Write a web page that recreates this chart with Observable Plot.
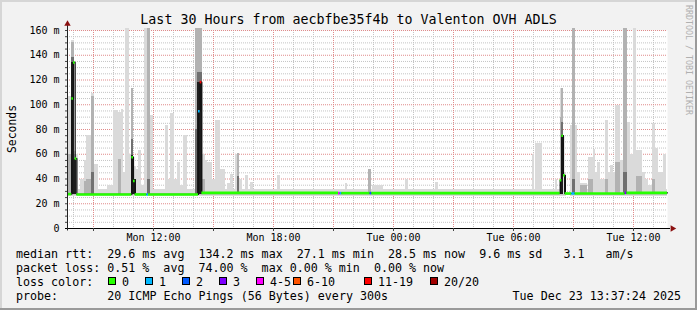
<!DOCTYPE html>
<html><head><meta charset="utf-8">
<script src="https://cdn.jsdelivr.net/npm/d3@7"></script>
<script src="https://cdn.jsdelivr.net/npm/@observablehq/plot@0.6"></script>
<style>
html,body{margin:0;padding:0;background:#f2f2f2;}
#chart{position:relative;width:697px;height:310px;background:#f2f2f2;overflow:hidden;}
#chart svg{position:absolute;left:0;top:0;}
.edge{position:absolute;}
</style></head>
<body><div id="chart"></div>
<script>
// ---------- data ----------
const title = "Last 30 Hours from aecbfbe35f4b to Valenton OVH ADLS";
const yTitle = "Seconds";
const watermark = "RRDTOOL / TOBI OETIKER";
// time in hours since Mon 22 Dec 2025 00:00
const startHour = 7.7, endHour = 37.7;
const xLabelHours = [12, 18, 24, 30, 36];
const xMajorHours = [9, 12, 15, 18, 21, 24, 27, 30, 33, 36];
const xMinorHours = [8, 10, 11, 13, 14, 16, 17, 19, 20, 22, 23, 25, 26, 28, 29, 31, 32, 34, 35, 37];
const yLabelValues = [0, 20, 40, 60, 80, 100, 120, 140, 160];
const yMajorValues = [20, 40, 60, 80, 100, 120, 140, 160];
const yMinorValues = [5, 10, 15, 25, 30, 35, 45, 50, 55, 65, 70, 75, 85, 90, 95, 105, 110, 115, 125, 130, 135, 145, 150, 155];

// median rtt (ms), step values starting at each time, with number of lost pings (of 20)
const medianHours = [7.7, 7.917, 8.0, 8.083, 8.167, 10.917, 11.0, 11.083, 11.667, 11.75, 14.25, 14.333, 14.417, 21.25, 21.333, 21.417, 22.833, 22.917, 32.333, 32.417, 32.5, 32.583, 32.917, 33.083, 35.583, 35.667];
const medianValues = [27.8, 105, 134.2, 56.5, 27.5, 57.6, 38.4, 27.5, 27.5, 27.5, 94.8, 118.3, 28.8, 28.6, 28.6, 28.6, 28.6, 28.6, 39, 75, 43, 28.3, 28.3, 28.3, 28.8, 28.8];
const medianLoss = [0, 0, 0, 0, 0, 0, 0, 0, 1, 0, 1, 14, 0, 4, 1, 0, 2, 0, 0, 0, 0, 0, 1, 0, 3, 0];

// smoke columns: [startHour, endHour, light top, mid top, dark top, core top] (ms)
const smokeFloor = 27;
const smokeColumns = [
  [7.75, 7.92, 107, 60, null, null],
  [7.92, 8.05, 152, 150, 138, 134],
  [8.05, 8.15, 62, 60, null, 56],
  [8.15, 8.25, 60, null, null, null],
  [8.35, 8.55, 40, null, null, null],
  [8.55, 8.65, 55, 38, null, null],
  [8.65, 8.9, 75, 40, null, null],
  [8.9, 9.05, 109, 107, 45, null],
  [9.05, 9.25, 52, null, null, null],
  [9.7, 10.0, 35, null, null, null],
  [10.0, 10.25, 95, null, null, null],
  [10.25, 10.4, 94, 56, null, null],
  [10.4, 10.5, 96, null, null, null],
  [10.5, 10.6, 45, null, null, null],
  [10.6, 10.8, 161.5, null, null, null],
  [10.8, 10.9, 60, null, null, null],
  [10.9, 11.0, 113, 113, 72, 59],
  [11.0, 11.135, 50, null, null, 40],
  [11.135, 11.25, 48, null, null, null],
  [11.25, 11.4, 63, null, null, null],
  [11.4, 11.55, 35, null, null, null],
  [11.55, 11.7, 161.5, null, null, null],
  [11.7, 11.85, 161.5, 161.5, 40, null],
  [11.85, 12.0, 91, null, null, null],
  [12.6, 12.75, 83, null, null, null],
  [12.75, 12.85, 40, null, null, null],
  [12.85, 13.05, 93, null, null, null],
  [13.05, 13.2, 40, null, null, null],
  [13.2, 13.35, 53, null, null, null],
  [13.35, 13.5, 35, null, null, null],
  [13.5, 13.7, 75, null, null, null],
  [14.1, 14.185, 161.5, 161.5, 80, null],
  [14.185, 14.435, 161.5, 161.5, 126, 118],
  [14.435, 14.6, 60, 40, null, null],
  [14.6, 14.7, 55, null, null, null],
  [14.7, 14.95, 53, null, null, null],
  [14.95, 15.1, 40, null, null, null],
  [15.1, 15.35, 87, null, null, null],
  [15.35, 15.6, 48, null, null, null],
  [15.7, 15.85, 36, null, null, null],
  [15.85, 16.0, 44, null, null, null],
  [16.1, 16.2, 60, null, null, null],
  [16.2, 16.3, 61, 61, 42, null],
  [16.3, 16.45, 40, null, null, null],
  [16.6, 16.75, 43, null, null, null],
  [16.85, 17.0, 37, null, null, null],
  [18.2, 18.35, 43, null, null, null],
  [21.6, 21.7, 36, null, null, null],
  [22.75, 22.9, 48, 48, null, null],
  [22.95, 23.5, 35, null, null, null],
  [24.6, 24.75, 40, null, null, null],
  [26.1, 26.25, 37, null, null, null],
  [30.95, 31.05, 60, null, null, null],
  [31.1, 31.45, 69, null, null, null],
  [32.1, 32.2, 40, null, null, null],
  [32.325, 32.4, 113, 90, null, 39],
  [32.4, 32.5, 113, 113, 86, 75],
  [32.5, 32.565, 50, null, null, null],
  [32.565, 32.65, 45, null, null, 43],
  [32.85, 32.95, 83, null, null, null],
  [32.95, 33.1, 161.5, 161.5, 40, null],
  [33.1, 33.2, 83, null, null, null],
  [33.2, 33.35, 45, null, null, null],
  [33.35, 33.7, 36, 35, null, null],
  [33.75, 34.0, 57, 40, null, null],
  [34.0, 34.1, 64, null, null, null],
  [34.1, 34.2, 45, null, null, null],
  [34.2, 34.35, 53, null, null, null],
  [34.35, 34.6, 40, null, null, null],
  [34.6, 34.75, 87, 40, null, null],
  [34.75, 34.85, 45, null, null, null],
  [34.85, 35.0, 51, null, null, null],
  [35.0, 35.1, 45, null, null, null],
  [35.1, 35.35, 99, 53, null, null],
  [35.35, 35.5, 55, null, null, null],
  [35.5, 35.7, 161.5, 161.5, 45, null],
  [35.7, 35.85, 86, null, null, null],
  [35.85, 36.0, 60, null, null, null],
  [36.0, 36.15, 161.5, null, null, null],
  [36.15, 36.45, 63, 42, null, null],
  [36.45, 36.6, 45, null, null, null],
  [36.6, 36.75, 40, null, null, null],
  [36.75, 36.95, 35, null, null, null],
  [36.95, 37.1, 85, 40, null, null],
  [37.1, 37.25, 65, null, null, null],
  [37.25, 37.5, 45, null, null, null],
  [37.5, 37.65, 60, null, null, null]
];
// thin smoke band around the baseline: [startHour, endHour, low, high]
const baselineSmoke = [[7.7, 32.65, 26, 31.5], [32.85, 37.7, 26, 31.5]];
const baselineLow = [[7.7, 37.7, 26.3, 27.3]];

const lossLabels = ["0", "1", "2", "3", "4-5", "6-10", "11-19", "20/20"];
const lossColors = ["#26ff00", "#00b8ff", "#0059ff", "#7e00ff", "#ff00ff", "#ff5500", "#ff0000", "#a10000"];

const legendRows = [
  "median rtt:  29.6 ms avg  134.2 ms max  27.1 ms min  28.5 ms now  9.6 ms sd   3.1   am/s",
  "packet loss: 0.51 %  avg  74.00 %  max 0.00 % min  0.00 % now"
];
const lossRowLabel = "loss color:";
const probeLabel = "probe:";
const probeText = "20 ICMP Echo Pings (56 Bytes) every 300s";
const stamp = "Tue Dec 23 13:37:24 2025";

// ---------- build ----------
const base = Date.UTC(2025, 11, 22);
const T = h => new Date(base + h * 3600e3);
const bucket = n => n === 0 ? 0 : n === 1 ? 1 : n === 2 ? 2 : n === 3 ? 3 : n <= 5 ? 4 : n <= 10 ? 5 : n <= 19 ? 6 : 7;

const layerFills = ["#dadada", "#b2b2b2", "#707070", "#1c1c1c"];
const smokeRects = [];
[2, 3, 4, 5].forEach((k, li) => smokeColumns.forEach(c => {
  if (c[k] != null) smokeRects.push({t0: c[0], t1: c[1], top: c[k], fill: layerFills[li]});
}));

const medianPts = medianHours.map((h, i) => ({t: T(h), v: medianValues[i]}));
medianPts.push({t: T(endHour), v: medianValues[medianValues.length - 1]});
const medianSegs = medianHours.map((h, i) => ({
  t0: T(h), t1: T(i + 1 < medianHours.length ? medianHours[i + 1] : endHour),
  v: medianValues[i], c: lossColors[bucket(medianLoss[i])]
}));

const gridDash = "1,1";
const plot = Plot.plot({
  width: 697, height: 310,
  marginLeft: 67, marginRight: 30, marginTop: 30, marginBottom: 82,
  style: "background: transparent; font-family: 'DejaVu Sans Mono', monospace; font-size: 10px; color: #000; overflow: visible;",
  x: {type: "utc", domain: [T(startHour), T(endHour)], label: null},
  y: {domain: [0, 160], label: null},
  marks: [
    Plot.frame({fill: "#ffffff", stroke: "none"}),
    Plot.ruleY(yMinorValues, {stroke: "#c4c4c4", strokeDasharray: gridDash}),
    Plot.ruleX(xMinorHours.map(T), {stroke: "#c4c4c4", strokeDasharray: gridDash}),
    Plot.ruleY(yMajorValues, {stroke: "#e08a8a", strokeDasharray: gridDash}),
    Plot.ruleX(xMajorHours.map(T), {stroke: "#e08a8a", strokeDasharray: gridDash}),
    Plot.rect(baselineSmoke, {x1: d => T(d[0]), x2: d => T(d[1]), y1: d => d[2], y2: d => d[3], fill: "#dadada", inset: 0, shapeRendering: "crispEdges"}),
    Plot.rect(smokeRects, {x1: d => T(d.t0), x2: d => T(d.t1), y1: smokeFloor, y2: "top", fill: "fill", inset: 0, shapeRendering: "crispEdges"}),
    Plot.rect(baselineLow, {x1: d => T(d[0]), x2: d => T(d[1]), y1: d => d[2], y2: d => d[3], fill: "#c4c4c4", inset: 0, shapeRendering: "crispEdges"}),
    Plot.line(medianPts, {x: "t", y: "v", curve: "step-after", stroke: "#111", strokeWidth: 1.2}),
    Plot.ruleY(medianSegs, {x1: "t0", x2: "t1", y: "v", stroke: "c", strokeWidth: 2.6}),
    Plot.ruleY([0], {x1: T(startHour - 0.1), x2: T(endHour + 0.15), stroke: "#000"}),
    Plot.ruleX([T(startHour)], {y1: -2, y2: 164, stroke: "#222"}),
    Plot.dot([{x: T(startHour), y: 160}], {x: "x", y: "y", symbol: "triangle", r: 2.4, dy: -6.5, fill: "#8b1010", stroke: "none"}),
    Plot.dot([{x: T(endHour), y: 0}], {x: "x", y: "y", symbol: "triangle", r: 2.4, rotate: 90, dx: 5, fill: "#8b1010", stroke: "none"}),
    Plot.axisY(yMinorValues.concat(yMajorValues), {tickSize: 2, tickFormat: () => "", label: null, stroke: "#444"}),
    Plot.axisY(yLabelValues, {tickSize: 0, tickPadding: 8, tickFormat: d => d === 0 ? "0" : d + " m", label: null, fontSize: 10}),
    Plot.axisX(xMajorHours.map(T), {tickSize: 3, tickFormat: () => "", label: null, stroke: "#444"}),
    Plot.axisX(xLabelHours.map(T), {tickSize: 0, tickPadding: 5, tickFormat: d3.utcFormat("%a %H:%M"), label: null, fontSize: 10})
  ]
});

const chart = document.getElementById("chart");
chart.appendChild(plot);

// ---------- text overlay (title, y title, legend) ----------
const ov = d3.create("svg").attr("width", 697).attr("height", 310)
  .style("font-family", "'DejaVu Sans Mono', monospace").style("pointer-events", "none");
ov.append("text").attr("x", 348.5).attr("y", 24).attr("text-anchor", "middle")
  .attr("font-size", 13.3).attr("fill", "#000").text(title);
ov.append("text").attr("transform", "translate(15.5,129) rotate(-90)").attr("text-anchor", "middle")
  .attr("font-size", 11.4).attr("fill", "#000").text(yTitle);
ov.append("text").attr("transform", "translate(685.5,5) rotate(90)")
  .attr("font-size", 8.3).attr("fill", "#b0b0b0").text(watermark);

const legendFont = 11.66;
const addLine = (x, y, s, anchor) => ov.append("text").attr("x", x).attr("y", y)
  .attr("font-size", legendFont).attr("fill", "#000").attr("xml:space", "preserve")
  .style("white-space", "pre").attr("text-anchor", anchor || "start").text(s);
legendRows.forEach((s, i) => addLine(16, 258 + 14 * i, s));
addLine(16, 286, lossRowLabel);
const swatchX = [108, 145, 182, 219, 256, 293, 364, 430];
lossLabels.forEach((lab, i) => {
  ov.append("rect").attr("x", swatchX[i] + 0.5).attr("y", 277.5).attr("width", 7).attr("height", 7)
    .attr("fill", lossColors[i]).attr("stroke", "#000").attr("stroke-width", 1);
  addLine(swatchX[i] + 14, 286, lab);
});
addLine(16, 300, probeLabel);
addLine(107.3, 300, probeText);
addLine(681, 300, stamp, "end");
chart.appendChild(ov.node());

// 3D border like rrdtool
[["0px", "0px", "697px", "2px", "#d6d6d6"], ["0px", "0px", "2px", "310px", "#d6d6d6"],
 ["695px", "0px", "2px", "310px", "#9a9a9a"], ["0px", "308px", "697px", "2px", "#9a9a9a"]].forEach(b => {
  const e = document.createElement("div");
  e.className = "edge";
  Object.assign(e.style, {left: b[0], top: b[1], width: b[2], height: b[3], background: b[4]});
  chart.appendChild(e);
});
</script>
</body></html>
